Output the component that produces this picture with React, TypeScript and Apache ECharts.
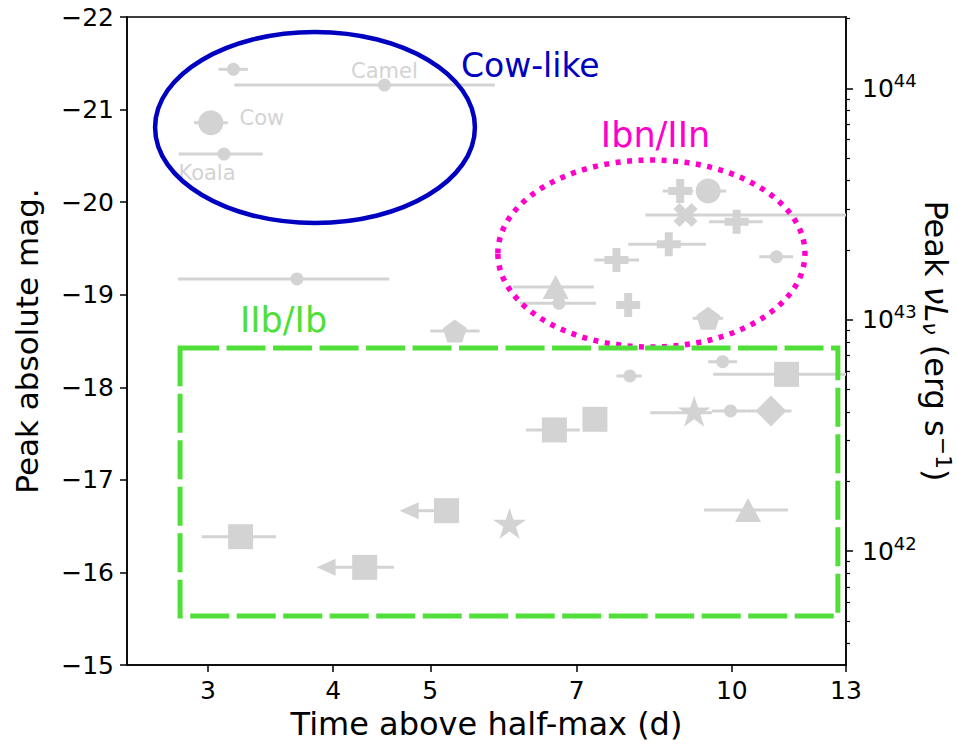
import React, { useEffect, useRef } from "react";
import * as echarts from "echarts";

// ---------- axes ----------
const xTicks = [3, 4, 5, 7, 10, 13];
const xMin = 2.49;
const xMax = 13;
const magMin = -22;
const magMax = -15;
// magnitude that corresponds to nuL_nu = 1e44 erg/s
const MAG_AT_1E44 = -21.23;
const lumMajorTicks = [1e42, 1e43, 1e44];
const lumMinorTicks = [
  4e41, 5e41, 6e41, 7e41, 8e41, 9e41,
  2e42, 3e42, 4e42, 5e42, 6e42, 7e42, 8e42, 9e42,
  2e43, 3e43, 4e43, 5e43, 6e43, 7e43, 8e43, 9e43,
  2e44,
];

// ---------- data: [time above half-max (d), peak mag, x err low, x err high] ----------
const namedNames = ["Camel", "Cow", "Koala"];
const namedPoints = [
  [4.5, -21.265, 3.187, 5.8],
  [3.019, -20.858, 2.905, 3.139],
  [3.112, -20.52, 2.803, 3.402],
];
const smallCircles = [
  [3.18, -21.435, 3.073, 3.287],
  [3.68, -19.17, 2.8, 4.55],
  [11.08, -19.41, 10.65, 11.51],
  [6.72, -18.907, 6.14, 7.32],
  [9.79, -18.276, 9.47, 10.12],
  [7.91, -18.122, 7.67, 8.13],
  [9.97, -17.744, 9.55, 10.34],
];
const bigCircles = [[9.47, -20.12, 9.22, 9.87]];
const plusPoints = [
  [8.88, -20.12, 8.53, 9.15],
  [10.11, -19.789, 9.49, 10.73],
  [8.65, -19.545, 7.88, 9.42],
  [7.67, -19.375, 7.29, 8.08],
  [7.88, -18.889, null, null],
];
const crossPoints = [[8.99, -19.861, 8.2, 14]];
const trianglePoints = [
  [6.67, -19.083, 6.05, 7.28],
  [10.38, -16.674, 9.38, 11.38],
];
const pentagonPoints = [
  [9.47, -18.745, 9.14, 9.8],
  [5.29, -18.608, 5.0, 5.6],
];
const squarePoints = [
  [11.34, -18.14, 9.58, 14],
  [6.65, -17.539, 6.23, 7.05],
  [7.3, -17.654, null, null],
  [3.233, -16.386, 2.957, 3.508],
];
// upper limits: [x, mag, arrow tip, x err high]
const squareLimits = [
  [5.19, -16.667, 4.66, null],
  [4.3, -16.055, 3.85, 4.6],
];
const starPoints = [
  [9.17, -17.725, 8.29, 9.55],
  [6.0, -16.512, null, null],
];
const diamondPoints = [[10.94, -17.744, 10.34, 11.47]];

// ---------- annotations (data coordinates) ----------
const cowLikeRegion = [2.656, -21.838, 5.54, -19.775];
const ibnRegion = [5.84, -20.455, 11.83, -18.435];
const iibRegion = [2.813, -18.424, 12.76, -15.529];
const regionLabels = ["Cow-like", "Ibn/IIn", "IIb/Ib"];
const regionLabelPos = [
  [5.365, -21.481],
  [7.4, -20.725],
  [3.228, -18.727],
];

// ---------- styles ----------
const GRAY = "#d3d3d3";
const BLUE = "#0000c0";
const MAGENTA = "#ff00cc";
const GREEN = "#4fdf38";
const FONT = "DejaVu Sans";

function starPath(n: number, inner: number) {
  const pts: string[] = [];
  for (let i = 0; i < 2 * n; i++) {
    const r = i % 2 === 0 ? 1 : inner;
    const a = -Math.PI / 2 + (i * Math.PI) / n;
    pts.push(`${(r * Math.cos(a)).toFixed(4)},${(r * Math.sin(a)).toFixed(4)}`);
  }
  return "path://M" + pts.join("L") + "Z";
}
function polyPath(n: number) {
  const pts: string[] = [];
  for (let i = 0; i < n; i++) {
    const a = -Math.PI / 2 + (i * 2 * Math.PI) / n;
    pts.push(`${Math.cos(a).toFixed(4)},${Math.sin(a).toFixed(4)}`);
  }
  return "path://M" + pts.join("L") + "Z";
}
const PLUS =
  "path://M-1,-3L1,-3L1,-1L3,-1L3,1L1,1L1,3L-1,3L-1,1L-3,1L-3,-1L-1,-1Z";
const XMARK =
  "path://M-1,-2L0,-1L1,-2L2,-1L1,0L2,1L1,2L0,1L-1,2L-2,1L-1,0L-2,-1Z";
const STAR = starPath(5, 0.381966);
const PENTAGON = polyPath(5);

const lumFromMag = (m: number) => Math.pow(10, 44 + (MAG_AT_1E44 - m) / 2.5);

function scatter(rows: any[], symbol: string, size: any, offset: number[] = [0, 0]) {
  return {
    type: "scatter",
    data: rows.map((r) => [r[0], r[1]]),
    symbol,
    symbolSize: size,
    symbolOffset: offset,
    itemStyle: { color: GRAY, opacity: 1 },
    silent: true,
    z: 3,
  };
}

function clampX(params: any, x: number) {
  const cs = params.coordSys;
  return Math.max(cs.x, Math.min(cs.x + cs.width, x));
}

function regionSeries(region: number[], kind: string, color: string, dash: any, width: number) {
  return {
    type: "custom",
    coordinateSystem: "cartesian2d",
    silent: true,
    z: 10,
    data: [region],
    renderItem: (params: any, api: any) => {
      const p1 = api.coord([api.value(0), api.value(1)]);
      const p2 = api.coord([api.value(2), api.value(3)]);
      const style = { fill: "none", stroke: color, lineWidth: width, lineDash: dash };
      if (kind === "rect") {
        return {
          type: "rect",
          shape: { x: p1[0], y: p1[1], width: p2[0] - p1[0], height: p2[1] - p1[1] },
          style,
        };
      }
      return {
        type: "ellipse",
        shape: {
          cx: (p1[0] + p2[0]) / 2,
          cy: (p1[1] + p2[1]) / 2,
          rx: Math.abs(p2[0] - p1[0]) / 2,
          ry: Math.abs(p2[1] - p1[1]) / 2,
        },
        style,
      };
    },
  };
}

const errRows = [
  ...namedPoints,
  ...smallCircles,
  ...bigCircles,
  ...plusPoints,
  ...crossPoints,
  ...trianglePoints,
  ...pentagonPoints,
  ...squarePoints,
  ...starPoints,
  ...diamondPoints,
].filter((r) => r[2] != null);

const namedLabelOffsets: Record<string, number[]> = {
  Camel: [0, -14],
  Cow: [51, -5],
  Koala: [-17, 19],
};

const option: any = {
  animation: false,
  backgroundColor: "#ffffff",
  textStyle: { fontFamily: FONT },
  grid: {
    left: 127,
    right: 112,
    top: 17,
    bottom: 79,
    show: true,
    borderColor: "#000",
    borderWidth: 1.5,
    containLabel: false,
    outerBoundsMode: "none",
  },
  xAxis: {
    type: "log",
    logBase: 10,
    min: xMin,
    max: xMax,
    name: "Time above half-max (d)",
    nameLocation: "middle",
    nameGap: 40,
    nameTextStyle: { fontSize: 32, color: "#000", fontFamily: FONT },
    axisLine: { lineStyle: { color: "#000", width: 1.5 } },
    axisTick: { customValues: xTicks, length: 7, lineStyle: { color: "#000", width: 1.5 } },
    axisLabel: {
      customValues: xTicks,
      formatter: (v: number) => String(Math.round(v)),
      fontSize: 25,
      color: "#000",
      margin: 13,
      fontFamily: FONT,
    },
    splitLine: { show: false },
    minorTick: { show: false },
  },
  yAxis: [
    {
      type: "value",
      min: magMin,
      max: magMax,
      interval: 1,
      inverse: true,
      position: "left",
      name: "Peak absolute mag.",
      nameLocation: "middle",
      nameGap: 85,
      nameTextStyle: { fontSize: 31, color: "#000", fontFamily: FONT },
      axisLine: { show: true, lineStyle: { color: "#000", width: 1.5 } },
      axisTick: { show: true, length: 7, lineStyle: { color: "#000", width: 1.5 } },
      axisLabel: {
        fontSize: 25,
        color: "#000",
        margin: 13,
        fontFamily: FONT,
        formatter: (v: number) => (v < 0 ? "\u2212" + Math.abs(v) : String(v)),
      },
      splitLine: { show: false },
    },
    {
      type: "log",
      logBase: 10,
      min: lumFromMag(magMax),
      max: lumFromMag(magMin),
      position: "right",
      name: "Peak {it|νL}{sub|ν} (erg s{sup|−1})",
      nameLocation: "middle",
      nameRotate: -90,
      nameGap: 72,
      nameMoveOverlap: false,
      nameTextStyle: {
        fontSize: 32,
        color: "#000",
        fontFamily: FONT,
        rich: {
          it: { fontSize: 32, fontStyle: "italic", color: "#000", fontFamily: FONT },
          sub: { fontSize: 22, fontStyle: "italic", color: "#000", fontFamily: FONT, padding: [12, 0, 0, 0] },
          sup: { fontSize: 22, color: "#000", fontFamily: FONT, padding: [0, 0, 14, 0] },
        },
      },
      axisLine: { show: true, lineStyle: { color: "#000", width: 1.5 } },
      axisTick: { customValues: lumMajorTicks, length: 7, lineStyle: { color: "#000", width: 1.5 } },
      axisLabel: {
        customValues: lumMajorTicks,
        margin: 16,
        formatter: (v: number) => "{b|10}{s|" + Math.round(Math.log10(v)) + "}",
        rich: {
          b: { fontSize: 25, color: "#000", fontFamily: FONT },
          s: { fontSize: 18, color: "#000", fontFamily: FONT, padding: [0, 0, 16, 0] },
        },
      },
      splitLine: { show: false },
      minorTick: { show: false },
    },
    {
      type: "log",
      logBase: 10,
      min: lumFromMag(magMax),
      max: lumFromMag(magMin),
      position: "right",
      axisLine: { show: false },
      axisTick: { customValues: lumMinorTicks, length: 4, lineStyle: { color: "#000", width: 1.2 } },
      axisLabel: { show: false },
      splitLine: { show: false },
      minorTick: { show: false },
    },
  ],
  series: [
    // error bars
    {
      type: "custom",
      coordinateSystem: "cartesian2d",
      silent: true,
      z: 1,
      data: errRows,
      renderItem: (params: any, api: any) => {
        const p1 = api.coord([api.value(2), api.value(1)]);
        const p2 = api.coord([api.value(3), api.value(1)]);
        return {
          type: "line",
          shape: { x1: clampX(params, p1[0]), y1: p1[1], x2: clampX(params, p2[0]), y2: p2[1] },
          style: { stroke: GRAY, lineWidth: 3 },
        };
      },
    },
    // upper-limit arrows
    {
      type: "custom",
      coordinateSystem: "cartesian2d",
      silent: true,
      z: 1,
      data: squareLimits.map((r) => [r[0], r[1], r[2], r[3] == null ? r[0] : r[3]]),
      renderItem: (params: any, api: any) => {
        const c = api.coord([api.value(0), api.value(1)]);
        const tip = api.coord([api.value(2), api.value(1)]);
        const hi = api.coord([api.value(3), api.value(1)]);
        const headLen = 19;
        const half = 8.5;
        return {
          type: "group",
          children: [
            {
              type: "line",
              shape: { x1: tip[0] + headLen - 1, y1: c[1], x2: hi[0], y2: c[1] },
              style: { stroke: GRAY, lineWidth: 3 },
            },
            {
              type: "polygon",
              shape: {
                points: [
                  [tip[0], c[1]],
                  [tip[0] + headLen, c[1] - half],
                  [tip[0] + headLen, c[1] + half],
                ],
              },
              style: { fill: GRAY },
            },
          ],
        };
      },
    },
    // named points
    {
      type: "scatter",
      silent: true,
      z: 3,
      symbol: "circle",
      itemStyle: { color: GRAY, opacity: 1 },
      data: namedPoints.map((r, i) => ({
        value: [r[0], r[1]],
        symbolSize: namedNames[i] === "Cow" ? 25 : 13,
        label: {
          show: true,
          formatter: namedNames[i],
          position: "inside",
          offset: namedLabelOffsets[namedNames[i]],
          color: GRAY,
          fontSize: 21,
          fontFamily: FONT,
        },
      })),
    },
    scatter(smallCircles, "circle", 13),
    scatter(bigCircles, "circle", 25),
    scatter(plusPoints, PLUS, 24),
    scatter(crossPoints, XMARK, 24),
    scatter(trianglePoints, "triangle", [26, 24]),
    scatter(pentagonPoints, PENTAGON, [24, 23]),
    scatter(squarePoints, "rect", 25),
    scatter(squareLimits, "rect", 25),
    scatter(starPoints, STAR, [33, 31], [0, -1.6]),
    scatter(diamondPoints, "diamond", [31, 31]),
    // region outlines
    regionSeries(cowLikeRegion, "ellipse", BLUE, null, 4.5),
    regionSeries(ibnRegion, "ellipse", MAGENTA, [5, 6.5], 5.5),
    regionSeries(iibRegion, "rect", GREEN, [39, 7.5], 5),
    // region labels
    {
      type: "custom",
      coordinateSystem: "cartesian2d",
      silent: true,
      z: 11,
      data: regionLabelPos,
      renderItem: (params: any, api: any) => {
        const p = api.coord([api.value(0), api.value(1)]);
        const i = params.dataIndex;
        const colors = [BLUE, MAGENTA, GREEN];
        const sizes = [33, 35, 35];
        return {
          type: "text",
          x: p[0],
          y: p[1],
          style: {
            text: regionLabels[i],
            fill: colors[i],
            fontSize: sizes[i],
            fontFamily: FONT,
            align: "left",
            verticalAlign: "middle",
          },
        };
      },
    },
  ],
};

export default function App() {
  const ref = useRef<HTMLDivElement>(null);
  useEffect(() => {
    const chart = echarts.init(ref.current!, null, { renderer: "svg" });
    chart.setOption(option);
    return () => chart.dispose();
  }, []);
  return (
    <div
      ref={ref}
      style={{ position: "fixed", left: 0, top: 0, width: 958, height: 744, background: "#fff" }}
    />
  );
}
